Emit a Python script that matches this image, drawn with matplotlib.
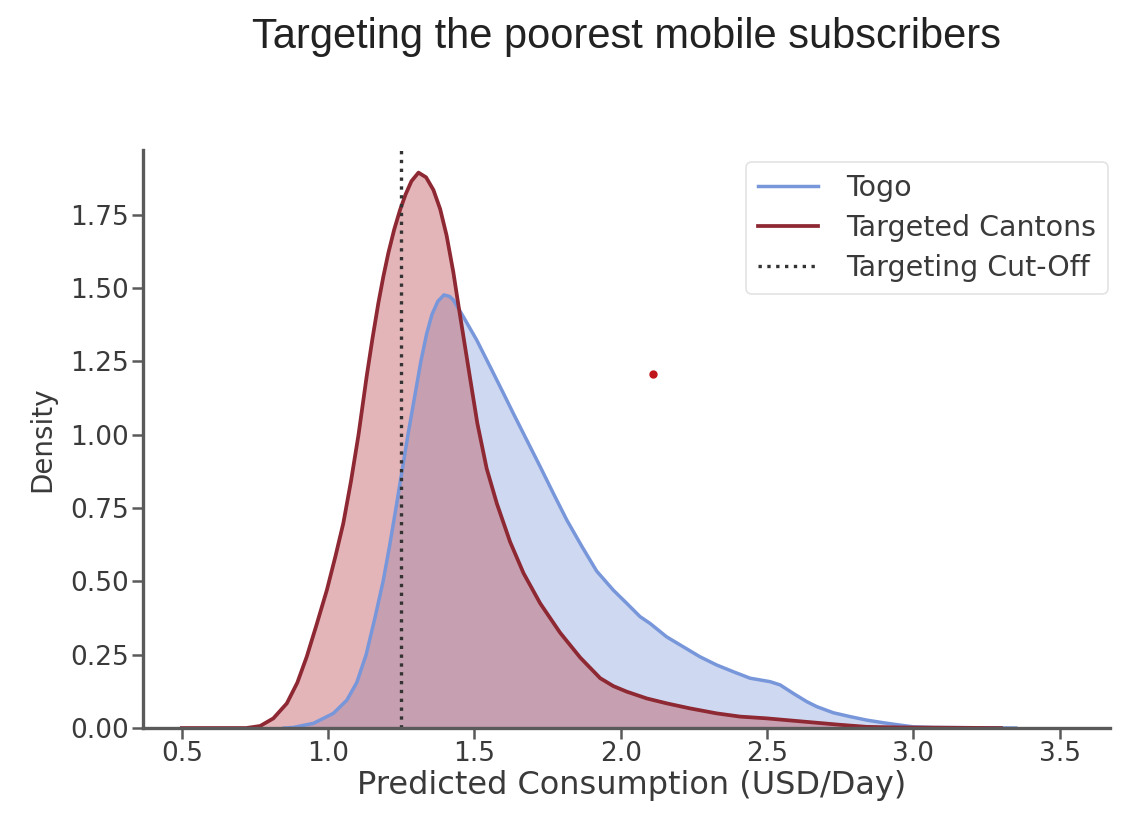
import matplotlib
matplotlib.use("Agg")
import matplotlib.pyplot as plt

# Density curves of predicted consumption (USD/day)
togo_x = [0.85, 0.881, 0.950, 1.018, 1.064, 1.098, 1.130, 1.160, 1.188, 1.210,
          1.232, 1.252, 1.273, 1.295, 1.317, 1.337, 1.355, 1.375, 1.396, 1.415,
          1.428, 1.462, 1.508, 1.565, 1.599, 1.633, 1.679, 1.725, 1.770, 1.816,
          1.867, 1.918, 1.975, 2.021, 2.066, 2.100, 2.157, 2.214, 2.271, 2.328,
          2.385, 2.442, 2.511, 2.545, 2.590, 2.636, 2.670, 2.727, 2.784, 2.841,
          2.898, 2.955, 3.000, 3.069, 3.35]
togo_y = [0.0, 0.002, 0.016, 0.050, 0.095, 0.155, 0.250, 0.375, 0.500, 0.620,
          0.750, 0.872, 1.000, 1.125, 1.250, 1.345, 1.410, 1.455, 1.477, 1.472,
          1.460, 1.403, 1.323, 1.210, 1.142, 1.073, 0.982, 0.891, 0.800, 0.709,
          0.620, 0.535, 0.470, 0.425, 0.380, 0.357, 0.311, 0.277, 0.243, 0.215,
          0.192, 0.170, 0.158, 0.147, 0.118, 0.090, 0.073, 0.052, 0.039, 0.027,
          0.018, 0.010, 0.004, 0.002, 0.0]

cantons_x = [0.50, 0.72, 0.768, 0.813, 0.859, 0.895, 0.927, 0.960, 0.996, 1.025,
             1.052, 1.078, 1.104, 1.118, 1.132, 1.152, 1.172, 1.189, 1.206, 1.226,
             1.246, 1.265, 1.285, 1.309, 1.335, 1.360, 1.383, 1.405, 1.428, 1.445,
             1.465, 1.485, 1.510, 1.542, 1.577, 1.622, 1.668, 1.725, 1.793, 1.862,
             1.930, 1.975, 2.021, 2.089, 2.158, 2.237, 2.328, 2.408, 2.499, 2.590,
             2.670, 2.750, 2.841, 2.955, 3.30]
cantons_y = [0.0, 0.0, 0.007, 0.033, 0.084, 0.155, 0.243, 0.350, 0.471, 0.585,
             0.698, 0.840, 1.000, 1.100, 1.200, 1.330, 1.450, 1.540, 1.620, 1.700,
             1.767, 1.820, 1.865, 1.894, 1.878, 1.835, 1.770, 1.680, 1.555, 1.445,
             1.320, 1.195, 1.040, 0.885, 0.765, 0.635, 0.528, 0.425, 0.325, 0.240,
             0.170, 0.143, 0.124, 0.101, 0.084, 0.067, 0.050, 0.039, 0.033, 0.025,
             0.018, 0.011, 0.004, 0.002, 0.0]

cutoff = 1.25
marker_pt = (2.111, 1.207)

series_labels = ["Togo", "Targeted Cantons", "Targeting Cut-Off"]
x_ticks = [0.5, 1.0, 1.5, 2.0, 2.5, 3.0, 3.5]
y_ticks = [0.0, 0.25, 0.5, 0.75, 1.0, 1.25, 1.5, 1.75]

blue = "#7896da"
red = "#8e2833"
axis_col = "#5a5a5a"
text_col = "#3a3a3a"

fig = plt.figure(figsize=(11.22, 8.15), dpi=100)
ax = fig.add_axes([0.1275, 0.1067, 0.8619, 0.7092])

ax.fill_between(togo_x, togo_y, color=blue, alpha=0.36, lw=0)
ax.plot(togo_x, togo_y, color=blue, lw=2.5, solid_joinstyle="round",
        label=series_labels[0])
ax.fill_between(cantons_x, cantons_y, color="#bd5058", alpha=0.42, lw=0)
ax.plot(cantons_x, cantons_y, color=red, lw=2.7, solid_joinstyle="round",
        label=series_labels[1])
ax.axvline(cutoff, color="#333333", ls=":", lw=2.4, label=series_labels[2])
ax.plot(*marker_pt, "o", color="#c0151b", ms=5)

ax.set_xlim(0.3677, 3.6726)
ax.set_ylim(0, 1.971)
ax.set_xticks(x_ticks)
ax.set_xticklabels([f"{v:.1f}" for v in x_ticks])
ax.set_yticks(y_ticks)
ax.set_yticklabels([f"{v:.2f}" for v in y_ticks])

for side in ("top", "right"):
    ax.spines[side].set_visible(False)
for side in ("left", "bottom"):
    ax.spines[side].set_color(axis_col)
    ax.spines[side].set_linewidth(2.4)
ax.tick_params(axis="both", colors=axis_col, labelcolor=text_col, length=8,
               width=1.8, labelsize=19, pad=2)
ax.tick_params(axis="x", pad=1)

ax.set_xlabel("Predicted Consumption (USD/Day)", fontsize=23, color=text_col,
              va="top")
ax.xaxis.set_label_coords(0.505, -0.072)
ax.set_ylabel("Density", fontsize=20, color=text_col, labelpad=10)

leg = ax.legend(loc="upper right", fontsize=20.5, frameon=True, borderpad=0.42,
                handlelength=2.1, handletextpad=1.0, labelspacing=0.42,
                borderaxespad=0, bbox_to_anchor=(0.998, 0.979))
leg.get_frame().set_edgecolor("#dcdcdc")
leg.get_frame().set_linewidth(1.2)
for t in leg.get_texts():
    t.set_color(text_col)

fig.text(0.558, 0.955, "Targeting the poorest mobile subscribers", ha="center",
         va="center", fontsize=30, family="Liberation Sans", color="#222222")

fig.savefig("out.png", dpi=100)
